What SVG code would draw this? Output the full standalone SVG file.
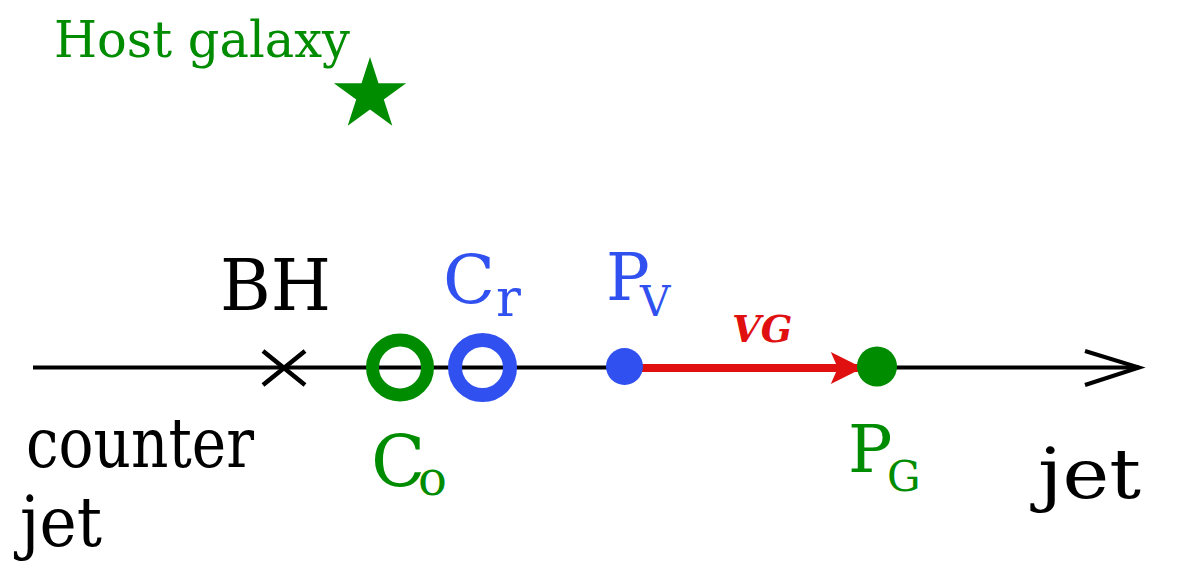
<svg xmlns="http://www.w3.org/2000/svg" width="1200" height="575" viewBox="0 0 1200 575">
<style>
text{font-family:"DejaVu Serif","Liberation Serif",serif}
.g{fill:#008c00}.b{fill:#3050f0}.k{fill:#000}
</style>
<defs>
<marker id="ah" viewBox="0 0 10 10" refX="8.5" refY="5" markerWidth="4.4" markerHeight="4" orient="auto" markerUnits="strokeWidth">
<path d="M0,0 L10,5 L0,10 L2.2,5 Z" fill="#e01010"/>
</marker>
</defs>
<rect width="1200" height="575" fill="#fff"/>
<g id="connectors">
<line x1="33" y1="367.5" x2="1139" y2="367.5" stroke="#000" stroke-width="4"/>
<polyline points="1085,351 1139,367.5 1085,385" fill="none" stroke="#000" stroke-width="4"/>
<line x1="640" y1="368" x2="858" y2="368" stroke="#e01010" stroke-width="8" marker-end="url(#ah)"/>
</g>
<g id="host-galaxy">
<text x="54" y="57" class="g" font-size="51" textLength="296" lengthAdjust="spacingAndGlyphs">Host galaxy</text>
<polygon class="g" points="370,57 378.5,83.3 406.1,83.3 383.8,99.5 392.3,125.7 370,109.5 347.7,125.7 356.2,99.5 333.9,83.3 361.5,83.3"/>
</g>
<g id="bh">
<text x="220" y="310" class="k" font-size="71" textLength="111" lengthAdjust="spacingAndGlyphs">BH</text>
<path d="M263,351 L305,385 M263,385 L305,351" stroke="#000" stroke-width="4.5" fill="none"/>
</g>
<g id="co">
<circle cx="400" cy="367.5" r="27.5" fill="none" stroke="#008c00" stroke-width="13"/>
<text class="g"><tspan x="371" y="486" font-size="71">C</tspan><tspan x="418" y="495" font-size="48">o</tspan></text>
</g>
<g id="cr">
<circle cx="482.5" cy="367.5" r="27.5" fill="none" stroke="#3050f0" stroke-width="14"/>
<text class="b"><tspan x="443" y="303" font-size="68">C</tspan><tspan x="496" y="316" font-size="52">r</tspan></text>
</g>
<g id="pv">
<circle cx="624.5" cy="366.5" r="18.5" class="b"/>
<text class="b"><tspan x="606" y="300" font-size="65">P</tspan><tspan x="640" y="316" font-size="42">V</tspan></text>
</g>
<g id="pg">
<circle cx="877" cy="366.5" r="20" class="g"/>
<text class="g"><tspan x="848" y="472" font-size="66">P</tspan><tspan x="887" y="491" font-size="42">G</tspan></text>
</g>
<g id="vg-label">
<text x="732" y="342" fill="#e01010" font-size="37" font-weight="bold" font-style="italic">VG</text>
</g>
<g id="counter-jet">
<text x="26" y="467" class="k" font-size="70" textLength="228" lengthAdjust="spacingAndGlyphs">counter</text>
<text x="20" y="546" class="k" font-size="70" textLength="82" lengthAdjust="spacingAndGlyphs">jet</text>
</g>
<g id="jet">
<text x="1038" y="498" class="k" font-size="70" textLength="103" lengthAdjust="spacingAndGlyphs">jet</text>
</g>
</svg>
